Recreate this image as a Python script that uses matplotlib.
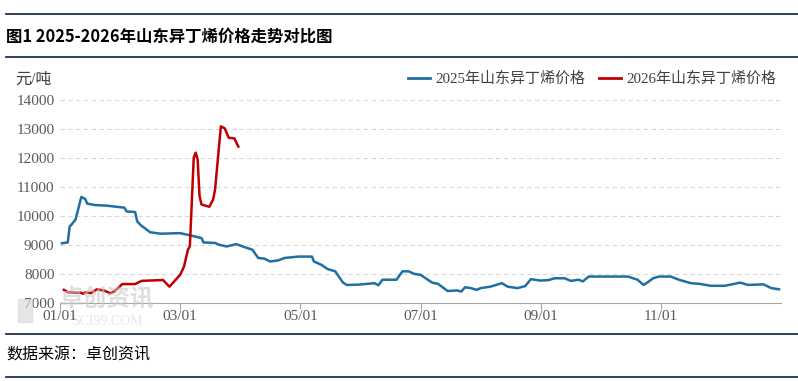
#!/usr/bin/env python3
# -*- coding: utf-8 -*-

import calendar
import matplotlib
matplotlib.use("Agg")
import matplotlib.pyplot as plt
from matplotlib.lines import Line2D

# 2025 series (month-day, price)
dates_2025 = ["01-02", "01-05", "01-06", "01-07", "01-09", "01-12", "01-14", "01-15",
              "01-19", "01-25", "02-03", "02-04", "02-08", "02-09", "02-11", "02-12",
              "02-15", "02-20", "03-01", "03-07", "03-12", "03-13", "03-19", "03-21",
              "03-25", "03-30", "04-03", "04-07", "04-10", "04-13", "04-16", "04-20",
              "04-23", "04-30", "05-07", "05-08", "05-12", "05-15", "05-19", "05-23",
              "05-25", "05-31", "06-08", "06-10", "06-12", "06-19", "06-22", "06-25",
              "06-28", "07-01", "07-07", "07-10", "07-15", "07-20", "07-22", "07-24",
              "07-27", "07-30", "08-01", "08-06", "08-12", "08-15", "08-20", "08-24",
              "08-27", "09-01", "09-05", "09-08", "09-13", "09-16", "09-20", "09-22",
              "09-25", "10-15", "10-20", "10-23", "10-25", "10-28", "10-31", "11-06",
              "11-10", "11-12", "11-16", "11-20", "11-26", "12-03", "12-11", "12-15",
              "12-23", "12-27", "12-31"]
price_2025 = [9050, 9080, 9630, 9700, 9870, 10650, 10580, 10420,
              10370, 10350, 10280, 10150, 10130, 9800, 9650, 9600,
              9430, 9380, 9400, 9310, 9230, 9080, 9060, 9000,
              8940, 9020, 8920, 8830, 8540, 8520, 8420, 8460,
              8540, 8590, 8590, 8420, 8300, 8160, 8080, 7690,
              7610, 7620, 7670, 7600, 7790, 7790, 8080, 8080,
              7990, 7960, 7690, 7650, 7400, 7420, 7380, 7530,
              7500, 7440, 7500, 7550, 7670, 7550, 7500, 7570,
              7810, 7760, 7780, 7840, 7840, 7750, 7790, 7730,
              7900, 7900, 7790, 7610, 7690, 7840, 7900, 7900,
              7790, 7750, 7670, 7650, 7580, 7580, 7690, 7610,
              7630, 7500, 7460]

# 2026 series
dates_2026 = ["01-03", "01-05", "01-12", "01-13", "01-14", "01-17", "01-20", "01-24",
              "01-27", "01-29", "02-02", "02-08", "02-11", "02-21", "02-24", "03-01",
              "03-03", "03-05", "03-06", "03-08", "03-09", "03-10", "03-11", "03-12",
              "03-16", "03-18", "03-19", "03-22", "03-24", "03-26", "03-29", "03-31"]
price_2026 = [7440, 7360, 7340, 7300, 7350, 7330, 7460, 7410,
              7320, 7380, 7640, 7640, 7750, 7780, 7550, 7960,
              8250, 8830, 8940, 12010, 12180, 11950, 10680, 10390,
              10310, 10560, 10910, 13090, 13020, 12700, 12670, 12390]

tick_labels = ["01/01", "03/01", "05/01", "07/01", "09/01", "11/01"]
y_ticks = [7000, 8000, 9000, 10000, 11000, 12000, 13000, 14000]


def md2pos(md):
    # equal spacing per month, like the category axis of the source chart
    m, d = [int(s) for s in md.split("-")]
    ndays = calendar.monthrange(2025, m)[1]
    return (m - 1) + (d - 1) / ndays


def main():
    fam = ["Liberation Serif", "Noto Sans CJK SC"]
    cjk = ["Noto Sans CJK SC", "DejaVu Sans"]
    plt.rcParams["font.family"] = fam

    fig = plt.figure(figsize=(7.98, 3.81), dpi=100)
    ax = fig.add_axes([0.0752, 0.2058, 0.9035, 0.5317])

    blue = "#1f6fa3"
    red = "#c00000"
    x1 = [md2pos(d) for d in dates_2025]
    x2 = [md2pos(d) for d in dates_2026]
    ax.plot(x1, price_2025, color=blue, lw=1.8, solid_joinstyle="round", zorder=3)
    ax.plot(x2, price_2026, color=red, lw=1.8, solid_joinstyle="round", zorder=4)

    ax.set_xlim(0, 12)
    ax.set_ylim(7000, 14000)
    ax.set_yticks(y_ticks)
    ax.set_xticks([0, 2, 4, 6, 8, 10])
    ax.set_xticklabels(tick_labels)
    for s in ["top", "right", "left"]:
        ax.spines[s].set_visible(False)
    ax.spines["bottom"].set_color("#a6a6a6")
    ax.spines["bottom"].set_zorder(5)
    ax.grid(axis="y", color="#d9d9d9", ls=(0, (4, 3)), lw=0.8)
    ax.set_axisbelow(True)
    ax.tick_params(axis="y", length=0, labelsize=11, labelcolor="#595959", pad=4)
    ax.tick_params(axis="x", length=4, color="#a6a6a6", labelsize=11,
                   labelcolor="#595959", pad=1)

    # unit label
    fig.text(0.019, 0.78, "元/吨", fontsize=11.5, color="#404040", family=fam)

    # legend
    handles = [Line2D([], [], color=blue, lw=2),
               Line2D([], [], color=red, lw=2)]
    fig.legend(handles, ["2025年山东异丁烯价格", "2026年山东异丁烯价格"],
               loc="center right", bbox_to_anchor=(0.99, 0.792), ncol=2,
               frameon=False, handlelength=1.5, handletextpad=0.35,
               columnspacing=0.9, labelcolor="#404040",
               prop={"family": fam, "size": 10.8})

    # watermark
    fig.text(0.075, 0.195, "卓创资讯", fontsize=17, color="#c8c8c8", alpha=0.6,
             family=cjk, fontweight="bold", zorder=0)
    fig.text(0.09, 0.148, "SCI99.COM", fontsize=10, color="#d6d6d6", alpha=0.6,
             family=fam, zorder=0)
    fig.patches.append(plt.Rectangle((0.022, 0.155), 0.018, 0.06, transform=fig.transFigure,
                                     color="#d6d6d6", alpha=0.6, zorder=0))

    # title, source and rules
    fig.text(0.008, 0.903, "图1 2025-2026年山东异丁烯价格走势对比图", fontsize=11.8,
             fontweight="bold", color="black", family=cjk, va="center")
    fig.text(0.008, 0.068, "数据来源：卓创资讯", fontsize=11.5, color="black",
             family=cjk, va="center")
    for yy in [1 - 14 / 381, 1 - 57 / 381, 1 - 334 / 381, 1 - 377 / 381]:
        fig.add_artist(Line2D([0.0075, 1.0], [yy, yy], transform=fig.transFigure,
                              color="#1f3050", lw=1.3))

    fig.savefig("out.png", dpi=100)


if __name__ == "__main__":
    main()
